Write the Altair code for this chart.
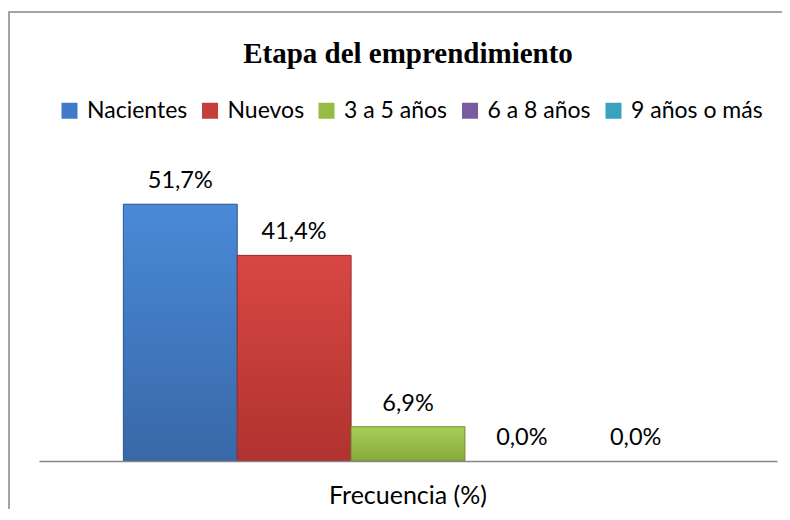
import altair as alt
import pandas as pd

# ---- data ----
categoria = ["Frecuencia (%)"] * 5
series = ["Nacientes", "Nuevos", "3 a 5 años", "6 a 8 años", "9 años o más"]
valores = [51.7, 41.4, 6.9, 0.0, 0.0]
colores = ["#3f7bc9", "#c43e3a", "#95bc45", "#7a5ba0", "#3aa2c0"]
color_top = ["#4a8ad8", "#d84743", "#a8cf58", "#8a6bb2", "#48b4d2"]
color_bot = ["#3868a8", "#b0332f", "#86a83a", "#6a4d8e", "#30899f"]
color_edge = ["#2f5b95", "#9a2b28", "#74922f", "#5a4079", "#28768a"]

df = pd.DataFrame({"categoria": categoria, "serie": series, "valor": valores})

x_enc = alt.X(
    "categoria:N",
    scale=alt.Scale(paddingInner=0, paddingOuter=0),
    axis=alt.Axis(
        title=None, labelAngle=0, ticks=False, labelFont="Lato", labelFontSize=25,
        labelColor="black", labelPadding=22.5, domainColor="#868686", domainWidth=1.5,
        zindex=1,
    ),
)
xo_enc = alt.XOffset(
    "serie:N", sort=series,
    scale=alt.Scale(domain=series, paddingInner=0, paddingOuter=0.741),
)
y_enc = alt.Y("valor:Q", scale=alt.Scale(domain=[0, 60], nice=False), axis=None)

base = alt.Chart(df)

border = alt.Chart(pd.DataFrame({"a": [0]})).mark_rect(
    fill="transparent", stroke="#868686", strokeWidth=1.5
).encode(
    x=alt.value(-30), x2=alt.value(800), y=alt.value(-151), y2=alt.value(420)
)

bars = base.mark_bar().encode(
    x=x_enc, xOffset=xo_enc, y=y_enc,
    color=alt.Color(
        "serie:N", sort=series,
        scale=alt.Scale(domain=series, range=colores),
        legend=alt.Legend(
            orient="none", legendX=19, legendY=-64, direction="horizontal",
            columns=5, title=None, symbolType="square", symbolSize=256,
            symbolStrokeWidth=0, labelFont="Lato", labelFontSize=23,
            labelColor="black", columnPadding=10.5, labelOffset=6,
            labelLimit=400,
        ),
    ),
)

overlays = []
for s, ct, cb, ce in zip(series, color_top, color_bot, color_edge):
    overlays.append(
        base.transform_filter(
            (alt.datum.serie == s) & (alt.datum.valor > 0)
        ).mark_bar(
            color=alt.Gradient(
                gradient="linear", x1=0, x2=0, y1=0, y2=1,
                stops=[alt.GradientStop(color=ct, offset=0),
                       alt.GradientStop(color=cb, offset=1)],
            ),
            stroke=ce, strokeWidth=1,
        ).encode(x=x_enc, xOffset=xo_enc, y=y_enc)
    )

labels = base.transform_calculate(
    etiqueta="replace(format(datum.valor, '.1f'), '.', ',') + '%'"
).mark_text(
    font="Lato", fontSize=23.5, baseline="alphabetic", dy=-16, color="black"
).encode(x=x_enc, xOffset=xo_enc, y=y_enc, text="etiqueta:N")

chart = alt.layer(border, bars, *overlays, labels).properties(
    width=738,
    height=298,
    autosize=alt.AutoSizeParams(type="none"),
    padding={"left": 31, "top": 155, "right": 5, "bottom": 48},
    title=alt.TitleParams(
        "Etapa del emprendimiento", font="Liberation Serif", fontSize=29,
        fontWeight="bold", color="black", anchor="middle", frame="group", dy=61.5,
    ),
).configure_view(stroke=None)

chart.save("out.html", embed_options={"renderer": "svg", "actions": False})
